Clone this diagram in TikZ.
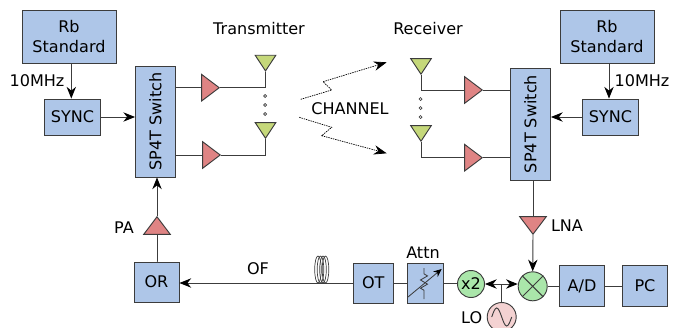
\documentclass[tikz,border=0pt]{standalone}
\usepackage{fontspec}
\setmainfont{DejaVu Sans}
\usetikzlibrary{arrows.meta}
\usetikzlibrary{shapes.geometric,positioning}
\usetikzlibrary{decorations.pathmorphing}
\definecolor{boxblue}{RGB}{174,198,232}
\definecolor{ampred}{RGB}{223,132,132}
\definecolor{antgreen}{RGB}{197,216,122}
\definecolor{mixgreen}{RGB}{170,230,170}
\definecolor{lopink}{RGB}{244,210,210}
\definecolor{linegray}{RGB}{60,60,60}
\tikzset{
    blockbox/.style={
        draw=linegray,
        line width=0.8pt,
        fill=boxblue,
        inner sep=0pt,
        align=center
    },
    ampshape/.style={
        isosceles triangle,
        isosceles triangle apex angle=75,
        isosceles triangle stretches,
        draw=linegray,
        line width=0.8pt,
        fill=ampred,
        inner sep=0pt,
        minimum width=0.8cm,
        minimum height=0.53cm,
        anchor=apex
    },
    antshape/.style={
        ampshape,
        shape border rotate=270,
        fill=antgreen,
        minimum width=0.62cm,
        minimum height=0.47cm
    },
    roundbox/.style={
        circle,
        draw=linegray,
        line width=0.8pt,
        fill=mixgreen,
        inner sep=0pt
    },
    plainline/.style={
        line width=0.8pt,
        linegray
    },
    blackarrow/.style={
        plainline,
        ->,
        >={Stealth[length=10pt, width=8pt, black]}
    },
    channelarrow/.style={
        line width=0.6pt,
        dash pattern=on 1.2pt off 0.8pt,
        black,
        ->,
        >={Stealth[length=11pt, width=8pt]}
    },
    labeltext/.style={
        inner sep=0pt,
        black
    },
    every node/.append style={font=\fontsize{13.7}{17}\selectfont}
}
\begin{document}
\begin{tikzpicture}[x=0.03cm,y=-0.03cm]
\clip (0,0) rectangle (677,327);

% transmitter side
\node[blockbox,minimum width=2.82cm,minimum height=1.59cm] (rbl) at (69,36.5) {Rb\\Standard};
\node[blockbox,minimum width=1.68cm,minimum height=1.08cm] (syncl) at (72.5,117) {SYNC};
\node[blockbox,rotate=90,minimum width=3.33cm,minimum height=1.2cm] (switchl) at (155.5,121.5) {SP4T Switch};
\node[blockbox,minimum width=1.35cm,minimum height=1.2cm] (orbox) at (156.5,282) {OR};
\node[ampshape,shape border rotate=90] (paamp) at (157,216) {};
\node[ampshape] (ampa) at (220,87.7) {};
\node[ampshape] (ampb) at (221,155) {};
\node[antshape] (anta) at (265.5,71.7) {};
\node[antshape] (antb) at (265.5,139) {};

% receiver side
\node[blockbox,minimum width=2.82cm,minimum height=1.59cm] (rbr) at (607,36.5) {Rb\\Standard};
\node[blockbox,minimum width=1.68cm,minimum height=1.08cm] (syncr) at (610.4,117) {SYNC};
\node[blockbox,rotate=90,minimum width=3.36cm,minimum height=1.2cm] (switchr) at (530.5,124) {SP4T Switch};
\node[ampshape] (ampc) at (483,90) {};
\node[ampshape] (ampd) at (483,157.7) {};
\node[antshape] (antc) at (421,75) {};
\node[antshape] (antd) at (421,142) {};
\node[ampshape,shape border rotate=270] (lnaamp) at (533,235) {};

% bottom row
\node[blockbox,minimum width=1.22cm,minimum height=1.2cm] (otbox) at (373.3,283) {OT};
\node[blockbox,minimum width=1.08cm,minimum height=1.2cm] (attn) at (425.2,283) {};
\node[roundbox,minimum size=0.81cm] (dbl) at (471,284) {x2};
\node[roundbox,minimum size=0.87cm] (mixer) at (532.7,286.3) {};
\node[blockbox,minimum width=1.37cm,minimum height=1.22cm] (adc) at (582,286) {A/D};
\node[blockbox,minimum width=1.35cm,minimum height=1.22cm] (pcbox) at (645,286) {PC};
\node[roundbox,fill=lopink,minimum size=0.87cm] (lo) at (501.7,317) {};
\coordinate (tapl) at (71.3,63);
\coordinate (tapr) at (609,63);
\coordinate (tee) at (501.7,284);

% connectors
\draw[blackarrow] (tapl) -- (tapl |- syncl.north);
\draw[blackarrow] (tapr) -- (tapr |- syncr.north);
\draw[blackarrow] (syncl.east) -- (syncl.east -| switchl.north);
\draw[blackarrow] (syncr.west) -- (syncr.west -| switchr.south);
\draw[plainline] (switchl.south |- ampa.lower side) -- (ampa.lower side);
\draw[plainline] (switchl.south |- ampb.lower side) -- (ampb.lower side);
\draw[plainline] (ampa.apex) -| (anta.apex);
\draw[plainline] (ampb.apex) -| (antb.apex);
\draw[plainline] (antc.apex) |- (ampc.lower side);
\draw[plainline] (antd.apex) |- (ampd.lower side);
\draw[plainline] (ampc.apex) -- (ampc.apex -| switchr.north);
\draw[plainline] (ampd.apex) -- (ampd.apex -| switchr.north);
\draw[plainline] (orbox.north) -- (orbox.north -| paamp.lower side) -- (paamp.lower side);
\draw[blackarrow] (paamp.apex) -- (paamp.apex |- switchl.west);
\draw[plainline] (lnaamp.lower side) -- (lnaamp.lower side |- switchr.west);
\draw[blackarrow] (lnaamp.apex) -- (mixer.north);
\draw[blackarrow] (otbox.west) -- (otbox.west -| orbox.east);
\draw[plainline] (otbox.east) -- (otbox.east -| attn.west);
\draw[plainline] (attn.east) -- (attn.east -| dbl.west);
\draw[plainline] (lo.north) -- (tee);
\draw[blackarrow] (tee) -- (dbl.east);
\draw[blackarrow] (tee) -- (tee -| mixer.west);
\draw[plainline] (mixer.east) -- (mixer.east -| adc.west);
\draw[plainline] (adc.east) -- (adc.east -| pcbox.west);

% mixer, oscillator, attenuator, fibre coil
\draw[plainline] (mixer.45) -- (mixer.225) (mixer.135) -- (mixer.315);
\draw[plainline] (491.7,317) sin (496.7,308) cos (501.7,317) sin (506.7,326) cos (511.7,317);
\draw[line width=0.7pt,linegray,decorate,decoration={zigzag,amplitude=3pt,segment length=7pt,pre length=5pt,post length=5pt}] (424,268) -- (424,299);
\draw[line width=0.7pt,linegray,->,>={Stealth[length=7pt, width=6pt, black]}] (408,297) -- (441.7,269);
\foreach \i in {0,1,2,3}
    \draw[line width=0.6pt,linegray] (318+2.5*\i,269.5) ellipse [x radius=3.3,y radius=13.5];

% antenna dots
\foreach \yy in {96,105,114}
    \draw[line width=0.6pt,linegray,fill=white] (265.2,\yy) circle (1.5);
\foreach \yy in {99,108,117}
    \draw[line width=0.6pt,linegray,fill=white] (420.5,\yy) circle (1.5);

% channel
\draw[channelarrow] (300.7,99.3) -- (331.7,90) -- (323,81.7) -- (386.7,62.3);
\draw[channelarrow] (299.3,117.3) -- (331.7,127.3) -- (321.7,135.7) -- (386.7,153.3);

% text
\node[labeltext] (txlabel) at (259,29) {Transmitter};
\node[labeltext] (rxlabel) at (428,29) {Receiver};
\node[labeltext] (chlabel) at (350,108.7) {CHANNEL};
\node[labeltext] (reflabell) at (37,80.5) {10MHz};
\node[labeltext] (reflabelr) at (642,81) {10MHz};
\node[labeltext] (palabel) at (124,228) {PA};
\node[labeltext] (lnalabel) at (567,225.5) {LNA};
\node[labeltext] (oflabel) at (258,269) {OF};
\node[labeltext] (attnlabel) at (423,253) {Attn};
\node[labeltext] (lolabel) at (471.7,317.7) {LO};
\end{tikzpicture}
\end{document}
